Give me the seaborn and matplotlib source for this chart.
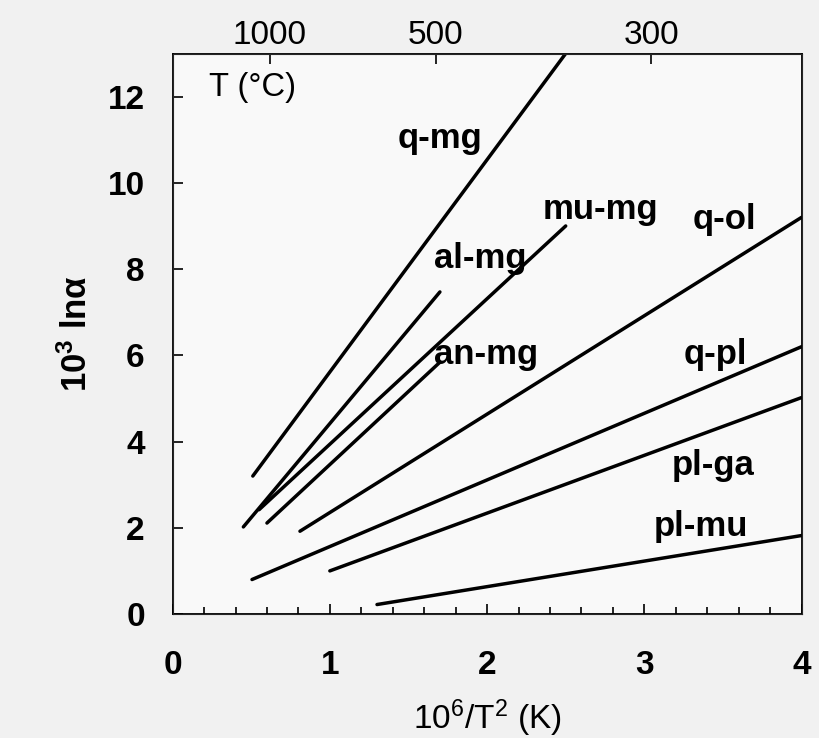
import numpy as np
import pandas as pd
import matplotlib
matplotlib.use("Agg")
import matplotlib.pyplot as plt
import seaborn as sns

# pares minerais e extremos de cada reta (10^6/T^2, 10^3 ln alpha)
pares = ['q-mg', 'al-mg', 'mu-mg', 'an-mg', 'q-ol', 'q-pl', 'pl-ga', 'pl-mu']
x_ini = [0.51, 0.45, 0.55, 0.60, 0.81, 0.505, 1.00, 1.30]
x_fim = [2.50, 1.70, 2.50, 1.70, 4.00, 4.00, 4.00, 4.00]
y_ini = [3.20, 2.02, 2.42, 2.11, 1.92, 0.80, 1.00, 0.22]
y_fim = [13.0, 7.47, 9.00, 5.84, 9.20, 6.20, 5.02, 1.82]

# posicao dos rotulos das retas
rot_x = [1.70, 1.955, 2.72, 1.995, 3.51, 3.45, 3.44, 3.36]
rot_y = [11.02, 8.24, 9.38, 6.03, 9.16, 6.03, 3.44, 2.02]

# eixo superior em temperatura
temp_c = [1000, 500, 300]

sns.set_style("ticks")
plt.rcParams['font.family'] = ['Liberation Sans', 'DejaVu Sans']
plt.rcParams['mathtext.default'] = 'regular'
plt.rcParams['text.color'] = 'black'
plt.rcParams['axes.labelcolor'] = 'black'

df = pd.DataFrame({
    'par': np.repeat(pares, 2),
    'x': np.ravel(np.column_stack([x_ini, x_fim])),
    'y': np.ravel(np.column_stack([y_ini, y_fim])),
})

fig = plt.figure(figsize=(8.2, 7.38), dpi=100, facecolor='#f1f1f1')
ax = fig.add_axes([0.2105, 0.168, 0.767, 0.7595])
ax.set_facecolor('#f9f9f9')

sns.lineplot(data=df, x='x', y='y', units='par', estimator=None,
             color='black', linewidth=2.5, ax=ax, legend=False)

for nome, tx, ty in zip(pares, rot_x, rot_y):
    ax.text(tx, ty, nome, ha='center', va='center', fontsize=25,
            fontweight='bold')

ax.text(0.23, 12.22, 'T (°C)', ha='left', va='center', fontsize=23.5)

ax.set_xlim(0, 4)
ax.set_ylim(0, 13)
ax.set_xticks([0, 1, 2, 3, 4])
ax.set_xticks(np.arange(0, 4.01, 0.2), minor=True)
ax.set_yticks([0, 2, 4, 6, 8, 10, 12])
ax.tick_params(axis='both', which='both', direction='in', colors='black',
               labelsize=24, width=1.2)
ax.tick_params(axis='x', which='major', length=7, pad=26)
ax.tick_params(axis='x', which='minor', length=5)
ax.tick_params(axis='y', which='major', length=7, pad=20)
for lab in ax.get_xticklabels() + ax.get_yticklabels():
    lab.set_fontweight('bold')

for s in ax.spines.values():
    s.set_visible(True)
    s.set_linewidth(1.3)
    s.set_color('black')

ax.set_xlabel('10$^6$/T$^2$ (K)', fontsize=24, labelpad=12)
ax.set_ylabel('10$^3$ ln\u03b1', fontsize=25, fontweight='bold', labelpad=10)

# eixo de cima com T em graus C
ax2 = ax.twiny()
ax2.set_xlim(ax.get_xlim())
ax2.set_xticks([1e6 / (t + 273.15) ** 2 for t in temp_c])
ax2.set_xticklabels([str(t) for t in temp_c])
ax2.tick_params(axis='x', direction='in', length=7, width=1.2, pad=2,
                labelsize=24, colors='black')
ax2.minorticks_off()

fig.savefig('out.png', dpi=100, facecolor=fig.get_facecolor())
